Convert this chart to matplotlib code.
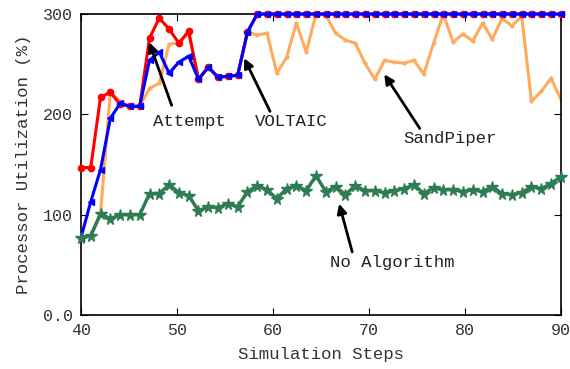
import numpy as np
import matplotlib
matplotlib.use("Agg")
import matplotlib.pyplot as plt

plt.rcParams['font.family'] = ['Liberation Mono', 'DejaVu Sans Mono']

# 50 samples spanning steps 40..90
steps = np.linspace(40, 90, 50)

attempt = [147, 147, 217, 222, 210, 208, 208, 276, 296, 285, 271, 283, 235,
           247, 237, 238, 239, 282] + [300] * 32
voltaic = [77, 113, 145, 196, 211, 208, 208, 254, 262, 241, 252, 258, 235,
           247, 237, 238, 239, 282] + [300] * 32
sandpiper = [77, 79, 101, 222, 213, 208, 208, 226, 231, 270, 271, 281, 235,
             247, 237, 238, 239, 282, 279, 281, 241, 257, 291, 262, 300,
             299, 281, 274, 271, 251, 235, 254, 252, 251, 254, 240, 271,
             300, 272, 280, 273, 291, 275, 296, 288, 298, 213, 223, 236, 215]
no_algo = [77, 79, 101, 96, 100, 100, 100, 121, 121, 130, 122, 119, 104,
           108, 107, 111, 108, 123, 129, 125, 116, 126, 129, 124, 139,
           123, 128, 120, 129, 124, 124, 122, 124, 126, 130, 121, 127,
           125, 125, 123, 125, 123, 128, 121, 120, 122, 128, 126, 131, 138]

xticks = [40, 50, 60, 70, 80, 90]
yticks = [0, 100, 200, 300]
ytick_labels = ["0.0", "100", "200", "300"]

fig = plt.figure(figsize=(5.70, 3.69), dpi=100)
ax = fig.add_axes([0.142, 0.146, 0.842, 0.816])

ax.plot(steps, sandpiper, color='#ffaa5c', lw=2.2, marker='.', ms=4, zorder=2)
ax.plot(steps, attempt, color='#ff0000', lw=2.2, marker='o', ms=4.5, zorder=3, clip_on=False)
ax.plot(steps, voltaic, color='#0000ff', lw=2.2, marker='<', ms=5, zorder=4, clip_on=False)
ax.plot(steps, no_algo, color='#2e7d52', lw=2.5, marker='*', ms=8.5, zorder=5, clip_on=False)

ax.set_xlim(40, 90)
ax.set_ylim(0, 300)
ax.set_xticks(xticks)
ax.set_yticks(yticks)
ax.set_yticklabels(ytick_labels)
ax.tick_params(direction='in', top=True, right=True, labelsize=12, colors='#333333',
               length=5, pad=6)
for s in ax.spines.values():
    s.set_linewidth(1.2)
    s.set_color('black')
ax.tick_params(color='black')

ax.set_xlabel('Simulation Steps', fontsize=12.5, color='#333333', labelpad=6)
ax.set_ylabel('Processor Utilization (%)', fontsize=12.5, color='#333333', labelpad=8)

arrow = dict(arrowstyle='-|>', color='black', lw=2, mutation_scale=14, shrinkA=0, shrinkB=0)
ann = [
    ('Attempt', (47.5, 193), (49.45, 209), (47.1, 272)),
    ('VOLTAIC', (58.1, 193), (59.7, 203), (57.0, 256)),
    ('SandPiper', (73.6, 176), (75.3, 186), (71.6, 240)),
    ('No Algorithm', (65.9, 52), (68.26, 63), (66.9, 111)),
]
for label, tpos, tail, head in ann:
    ax.text(tpos[0], tpos[1], label, fontsize=12.5, color='#222222', ha='left', va='center', zorder=6)
    ax.annotate('', xy=head, xytext=tail, arrowprops=arrow, zorder=6)

fig.savefig('out.png', dpi=100)
